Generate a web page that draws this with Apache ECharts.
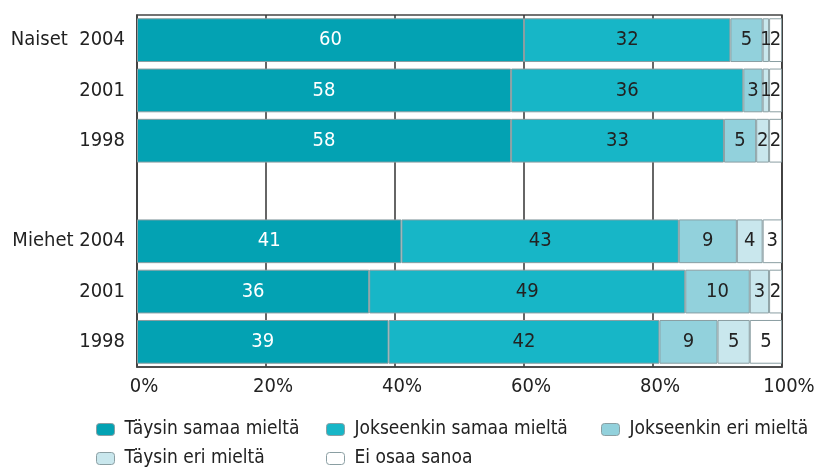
<!DOCTYPE html>
<html><head><meta charset="utf-8">
<script src="https://cdn.jsdelivr.net/npm/echarts@6/dist/echarts.min.js"></script>
<style>html,body{margin:0;padding:0;background:#fff}#c{width:821px;height:468px}</style>
</head><body><div id="c"></div>
<script>
const categories = ['Naiset 2004','Naiset 2001','Naiset 1998','gap','Miehet 2004','Miehet 2001','Miehet 1998'];
const yTickLabels = ['Naiset  2004','2001','1998','','Miehet 2004','2001','1998'];
const seriesNames = ['Täysin samaa mieltä','Jokseenkin samaa mieltä','Jokseenkin eri mieltä','Täysin eri mieltä','Ei osaa sanoa'];
const taysinSamaa = [60,58,58,null,41,36,39];
const jokseenkinSamaa = [32,36,33,null,43,49,42];
const jokseenkinEri = [5,3,5,null,9,10,9];
const taysinEri = [1,1,2,null,4,3,5];
const eiOsaa = [2,2,2,null,3,2,5];
const xTickValues = [0,20,40,60,80,100];

const colors = ['#03a2b3','#17b6c7','#92d1dc','#c9e7ed','#ffffff'];
const labelColors = ['#ffffff','#222','#222','#222','#222'];
const values = [taysinSamaa,jokseenkinSamaa,jokseenkinEri,taysinEri,eiOsaa];
const FONT = '"DejaVu Sans Condensed","Liberation Sans Narrow",sans-serif';

const series = seriesNames.map((n,i)=>({
  name:n, type:'bar', stack:'s', barWidth:'87%',
  data: values[i],
  itemStyle:{color:colors[i], borderColor:'#8a9ea2', borderWidth:1},
  label:{show:true, position:'inside', color:labelColors[i], fontSize:20, fontFamily:FONT,
    formatter:p=>p.value==null?'':String(p.value)},
  emphasis:{disabled:true}
}));

const legendPos = [[91,415],[321,415],[596,415],[91,444],[321,444]];
const legends = seriesNames.map((n,i)=>({
  data:[n], left:legendPos[i][0], top:legendPos[i][1], itemWidth:18, itemHeight:12, itemGap:0,
  textStyle:{fontSize:19, fontFamily:FONT, color:'#222', padding:[0,0,0,5]},
  itemStyle:{borderColor:'#8a9ea2', borderWidth:1}, selectedMode:false
}));

const chart = echarts.init(document.getElementById('c'),null,{renderer:'canvas'});
chart.setOption({
  animation:false,
  grid:{left:137,right:39,top:15,bottom:101,show:true,borderColor:'#444',borderWidth:1.5,containLabel:false},
  xAxis:{type:'value',min:0,max:100,interval:20,
    axisLine:{show:true,lineStyle:{color:'#444',width:1.5}},
    axisTick:{show:false},
    splitLine:{show:true,lineStyle:{color:'#333',width:1.5}},
    axisLabel:{color:'#222',fontSize:20,fontFamily:FONT,margin:10,padding:[0,0,0,14],formatter:v=>v+'%'}},
  yAxis:{type:'category',data:categories,inverse:true,
    axisLine:{show:true,lineStyle:{color:'#444',width:1.5}},
    axisTick:{show:false},
    axisLabel:{color:'#222',fontSize:20,fontFamily:FONT,margin:12,formatter:(v,i)=>yTickLabels[i]}},
  legend:legends,
  series:series
});
</script></body></html>
